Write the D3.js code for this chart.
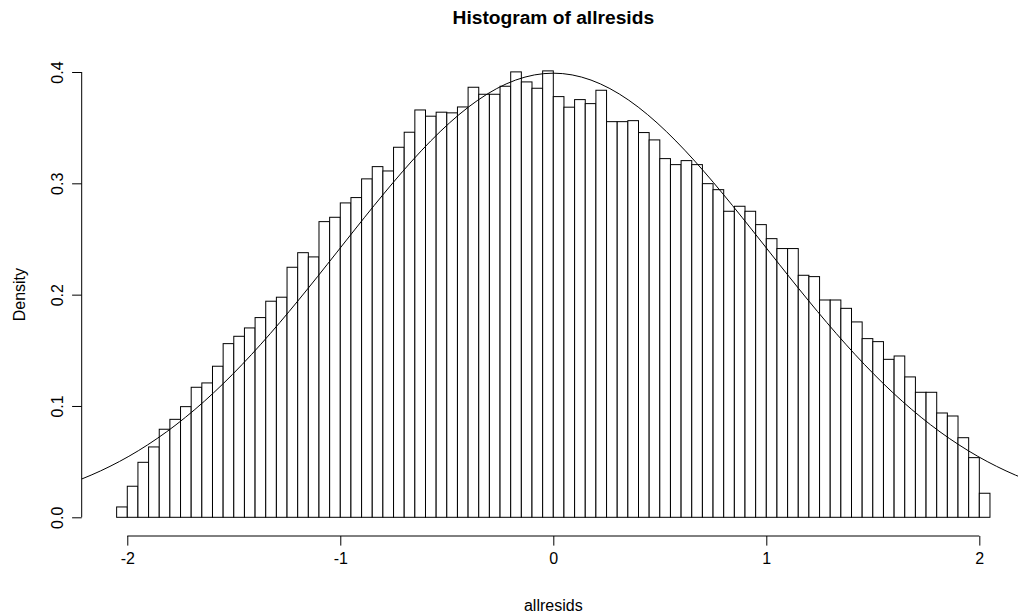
<!DOCTYPE html>
<html>
<head>
<meta charset="utf-8">
<script src="https://cdn.jsdelivr.net/npm/d3@7"></script>
<style>
  body { margin: 0; background: #fff; }
  svg { display: block; font-family: "Liberation Sans", Arial, Helvetica, sans-serif; }
</style>
</head>
<body>
<script>
// histogram breaks: -2.05 .. 2.05 by 0.05
const breakStart = -2.05;
const binWidth = 0.05;

// density of each bin (left to right)
const densities = [
  0.0093, 0.0279, 0.0494, 0.0632, 0.0791, 0.0880, 0.0994, 0.1168, 0.1207, 0.1357,
  0.1560, 0.1626, 0.1701, 0.1794, 0.1941, 0.1977, 0.2246, 0.2377, 0.2339, 0.2656,
  0.2695, 0.2824, 0.2872, 0.3040, 0.3150, 0.3111, 0.3324, 0.3459, 0.3659, 0.3603,
  0.3639, 0.3633, 0.3686, 0.3863, 0.3800, 0.3800, 0.3872, 0.4001, 0.3911, 0.3854,
  0.4010, 0.3779, 0.3684, 0.3752, 0.3716, 0.3836, 0.3554, 0.3554, 0.3563, 0.3456,
  0.3390, 0.3222, 0.3168, 0.3204, 0.3168, 0.2997, 0.2943, 0.2749, 0.2794, 0.2749,
  0.2629, 0.2503, 0.2414, 0.2414, 0.2174, 0.2162, 0.1952, 0.1952, 0.1877, 0.1755,
  0.1605, 0.1578, 0.1419, 0.1449, 0.1261, 0.1123, 0.1123, 0.0937, 0.0910, 0.0715,
  0.0536, 0.0216
];

const xTicks = [-2, -1, 0, 1, 2];
const yTicks = [0, 0.1, 0.2, 0.3, 0.4];
const yTickLabels = ["0.0", "0.1", "0.2", "0.3", "0.4"];

// overlaid curve: standard normal density
const curveMean = 0;
const curveSd = 1;

const width = 1018;
const height = 615;

const bins = densities.map((d, i) => ({
  x0: breakStart + i * binWidth,
  x1: breakStart + (i + 1) * binWidth,
  density: d
}));

const xLo = bins[0].x0, xHi = bins[bins.length - 1].x1;
const pad = (xHi - xLo) * 0.04; // R's default axis extension

const x = d3.scaleLinear()
  .domain([xLo - pad, xHi + pad])
  .range([81.7, 1024.9]);

const y = d3.scaleLinear()
  .domain([0, 0.4])
  .range([517.3, 72]);

const plotBottom = 536;

const svg = d3.select("body").append("svg")
  .attr("width", width)
  .attr("height", height);

// bars
svg.append("g")
  .attr("fill", "#fff")
  .attr("stroke", "#000")
  .attr("stroke-width", 1)
  .selectAll("rect")
  .data(bins)
  .join("rect")
    .attr("x", d => x(d.x0))
    .attr("y", d => y(d.density))
    .attr("width", d => x(d.x1) - x(d.x0))
    .attr("height", d => y(0) - y(d.density));

// normal curve over the whole plot range (101 points like curve())
const dnorm = v => Math.exp(-0.5 * ((v - curveMean) / curveSd) ** 2) / (curveSd * Math.sqrt(2 * Math.PI));
const [c0, c1] = x.domain();
const curvePts = d3.range(101).map(i => c0 + (c1 - c0) * i / 100);

svg.append("path")
  .datum(curvePts)
  .attr("fill", "none")
  .attr("stroke", "#000")
  .attr("stroke-width", 1)
  .attr("d", d3.line().x(v => x(v)).y(v => y(dnorm(v))));

// x axis
const xAxis = svg.append("g")
  .attr("transform", `translate(0,${plotBottom})`)
  .call(d3.axisBottom(x).tickValues(xTicks).tickSize(9.6).tickPadding(7)
    .tickFormat(d => d < 0 ? "-" + Math.abs(d) : d));
xAxis.select(".domain")
  .attr("d", `M${x(xTicks[0])},0H${x(xTicks[xTicks.length - 1])}`);
xAxis.selectAll("text").attr("font-size", 16).attr("fill", "#000")
  .attr("font-family", "Liberation Sans, Arial, sans-serif");

// y axis
const yAxis = svg.append("g")
  .attr("transform", `translate(${x.range()[0]},0)`)
  .call(d3.axisLeft(y).tickValues(yTicks).tickSize(9.6)
    .tickFormat((d, i) => yTickLabels[i]));
yAxis.select(".domain")
  .attr("d", `M0,${y(yTicks[0])}V${y(yTicks[yTicks.length - 1])}`);
yAxis.selectAll(".tick text")
  .attr("x", null).attr("dy", null)
  .attr("text-anchor", "middle")
  .attr("font-size", 16).attr("fill", "#000")
  .attr("font-family", "Liberation Sans, Arial, sans-serif")
  .attr("transform", "translate(-18.5,0) rotate(-90)");

// titles
svg.append("text")
  .attr("x", (x.range()[0] + x.range()[1]) / 2)
  .attr("y", 23.5)
  .attr("text-anchor", "middle")
  .attr("font-size", 19.2)
  .attr("font-weight", "bold")
  .text("Histogram of allresids");

svg.append("text")
  .attr("x", (x.range()[0] + x.range()[1]) / 2)
  .attr("y", 611)
  .attr("text-anchor", "middle")
  .attr("font-size", 16)
  .text("allresids");

svg.append("text")
  .attr("transform", `translate(25,${(y(0) + y(0.4)) / 2}) rotate(-90)`)
  .attr("text-anchor", "middle")
  .attr("font-size", 16)
  .text("Density");
</script>
</body>
</html>
